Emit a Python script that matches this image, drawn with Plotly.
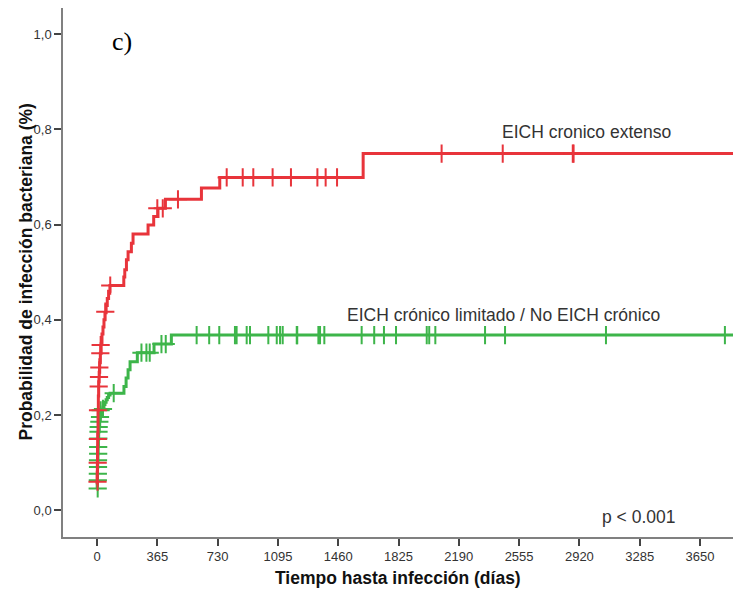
import plotly.graph_objects as go

# ---- data ----
red_name = "EICH cronico extenso"
red_days = [0, 1, 2, 3, 4, 6, 8, 10, 13, 16, 20, 25, 30, 36, 42, 48, 55, 62, 70, 78,
            162, 168, 178, 188, 208, 218, 309, 343, 369, 414, 632, 743, 1611, 3900]
red_prob = [0.055, 0.08, 0.10, 0.13, 0.16, 0.21, 0.24, 0.27, 0.29, 0.31, 0.33, 0.35, 0.37,
            0.385, 0.40, 0.415, 0.43, 0.445, 0.46, 0.472, 0.49, 0.505, 0.526, 0.543, 0.561,
            0.58, 0.599, 0.617, 0.634, 0.653, 0.677, 0.699, 0.749, 0.749]
red_cens_days = [3, 4, 5, 6, 10, 12, 14, 20, 22, 50, 80, 365, 398, 490,
                 785, 882, 946, 1063, 1174, 1334, 1384, 1453, 2086, 2456, 2880, 2885]
red_cens_prob = [0.06, 0.10, 0.15, 0.21, 0.26, 0.28, 0.30, 0.33, 0.347, 0.417, 0.472, 0.634,
                 0.634, 0.653, 0.699, 0.699, 0.699, 0.699, 0.699, 0.699, 0.699, 0.699,
                 0.749, 0.749, 0.749, 0.749]

green_name = "EICH crónico limitado / No EICH crónico"
green_days = [0, 1, 2, 3, 4, 5, 6, 8, 10, 13, 16, 20, 24, 30, 36, 42, 48, 55, 62, 70, 79,
              163, 176, 188, 200, 244, 345, 450, 3900]
green_prob = [0.045, 0.06, 0.075, 0.09, 0.105, 0.12, 0.135, 0.15, 0.165, 0.18, 0.19, 0.2,
              0.207, 0.212, 0.217, 0.222, 0.227, 0.232, 0.237, 0.242, 0.246, 0.26, 0.278,
              0.295, 0.312, 0.331, 0.349, 0.368, 0.368]
green_cens_days = [4, 5, 5, 6, 6, 7, 7, 8, 9, 10, 14, 18, 22, 36, 101, 269, 299, 319, 390, 416,
                   603, 679, 740, 835, 845, 906, 926, 1037, 1088, 1108, 1124, 1209, 1212,
                   1340, 1350, 1376, 1602, 1678, 1737, 1810, 1996, 2011, 2048, 2349, 2470,
                   3081, 3801]
green_cens_prob = [0.046, 0.063, 0.077, 0.091, 0.105, 0.119, 0.133, 0.151, 0.165, 0.175,
                   0.186, 0.196, 0.21, 0.213, 0.246, 0.331, 0.331, 0.331, 0.349, 0.349] + [0.368] * 27

x_ticks = [0, 365, 730, 1095, 1460, 1825, 2190, 2555, 2920, 3285, 3650]
y_ticks = [0.0, 0.2, 0.4, 0.6, 0.8, 1.0]

RED = "#e8343b"
GREEN = "#3db54a"
FONT = "Arial, Liberation Sans, sans-serif"

fig = go.Figure()
for days, prob, cd, cp, col, nm in [
    (green_days, green_prob, green_cens_days, green_cens_prob, GREEN, green_name),
    (red_days, red_prob, red_cens_days, red_cens_prob, RED, red_name),
]:
    fig.add_trace(go.Scatter(x=days, y=prob, mode="lines", line=dict(color=col, width=3, shape="hv"),
                             name=nm, showlegend=False, hoverinfo="skip"))
    fig.add_trace(go.Scatter(x=cd, y=cp, mode="markers",
                             marker=dict(symbol="cross-thin", size=13,
                                         line=dict(color=col, width=2)),
                             showlegend=False, hoverinfo="skip"))

fig.update_layout(
    width=733, height=591,
    margin=dict(l=63, r=0, t=8, b=54),
    plot_bgcolor="white", paper_bgcolor="white",
    separators=",.",
    font=dict(family=FONT, color="#222"),
    xaxis=dict(range=[-206, 3850], tickvals=x_ticks, showgrid=False, zeroline=False,
               showline=True, linecolor="#808080", linewidth=1.5,
               ticks="outside", ticklen=7, tickwidth=2, tickcolor="#444",
               tickfont=dict(size=13, color="#333")),
    yaxis=dict(range=[-0.056, 1.0547], tickvals=y_ticks, tickformat=".1f", showgrid=False,
               zeroline=False, showline=True, linecolor="#808080", linewidth=1.5,
               ticks="outside", ticklen=7, tickwidth=2, tickcolor="#444",
               tickfont=dict(size=13, color="#333")),
    annotations=[
        dict(text="<b>Tiempo hasta infección (días)</b>", xref="paper", yref="paper",
             x=0.5, y=0, yanchor="top", xanchor="center", yshift=-29, showarrow=False,
             font=dict(size=17.5, color="#111")),
        dict(text="<b>Probabilidad de infección bacteriana (%)</b>", xref="paper", yref="paper",
             x=0, y=0.5, xanchor="center", yanchor="middle", xshift=-38, textangle=-90,
             showarrow=False, font=dict(size=17.5, color="#111")),
        dict(text="c)", x=150, y=0.984, xref="x", yref="y", showarrow=False,
             font=dict(family="Liberation Serif, Times New Roman, serif", size=26, color="#000")),
        dict(text=red_name, x=2961, y=0.795, xref="x", yref="y", showarrow=False,
             font=dict(size=17.5, color="#333")),
        dict(text=green_name, x=2463, y=0.41, xref="x", yref="y", showarrow=False,
             font=dict(size=17.5, color="#333")),
        dict(text="p < 0.001", x=3280, y=-0.014, xref="x", yref="y", showarrow=False,
             font=dict(size=17.5, color="#333")),
    ],
)

fig.write_html("out.html")
